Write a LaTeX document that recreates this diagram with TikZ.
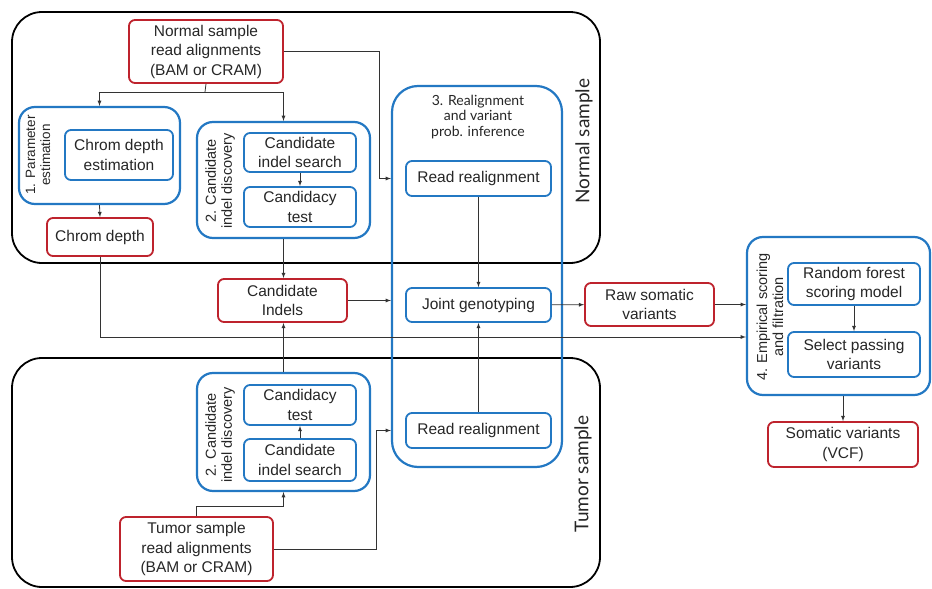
\documentclass[tikz,border=0pt]{standalone}
\usepackage{fontspec}
\setmainfont{Liberation Sans}
\newfontfamily\gillfont{Lato}
\usetikzlibrary{shapes}
\usetikzlibrary{arrows}
\definecolor{boxred}{RGB}{190,35,45}
\definecolor{boxblue}{RGB}{35,120,195}
\begin{document}
\begin{tikzpicture}[x=1pt,y=-1pt]
			\tikzstyle{every node}=[font=\fontsize{15.5}{19.5}\selectfont, text=black!85, inner sep=0pt]
			\tikzstyle{redbox}=[draw=boxred, line width=1.8pt, rounded corners=6pt, align=center]
			\tikzstyle{bluebox}=[draw=boxblue, line width=1.8pt, rounded corners=6pt, align=center]
			\tikzstyle{stagebox}=[draw=boxblue, line width=2.2pt, rounded corners=16pt]
			\tikzstyle{samplebox}=[draw=black, line width=1.8pt, rounded corners=30pt]
			\tikzstyle{stagelbl}=[rotate=90, align=center, font=\fontsize{14.5}{16}\selectfont]
			\tikzstyle{samplelbl}=[rotate=90, font=\gillfont\fontsize{19}{22}\selectfont]
			\tikzstyle{flow}=[->, >=latex, line width=0.8pt, draw=black!80]
			\useasboundingbox (0,0) rectangle (932,589);

			% sample regions
			\node[samplebox, minimum width=588pt, minimum height=251pt] (normal) at (306,137.5) {};
			\node[samplebox, minimum width=588pt, minimum height=229pt] (tumor) at (306,472.5) {};
			\node[samplelbl] (normallbl) at (584,141) {Normal sample};
			\node[samplelbl] (tumorlbl) at (583,474) {Tumor sample};

			% 3. realignment
			\node[stagebox, rounded corners=26pt, minimum width=170pt, minimum height=381pt] (realign) at (477,276.5) {};
			\node[align=center, font=\gillfont\fontsize{14}{15.5}\selectfont] (realigntitle) at (478,117) {3. Realignment\\and variant\\prob. inference};
			\node[bluebox, minimum width=145pt, minimum height=35pt] (nrealign) at (478.5,178.5) {Read realignment};
			\node[bluebox, minimum width=145pt, minimum height=34pt] (joint) at (478.5,305) {Joint genotyping};
			\node[bluebox, minimum width=145pt, minimum height=35pt] (trealign) at (478.5,430.5) {Read realignment};

			% normal sample
			\node[redbox, minimum width=154pt, minimum height=63pt] (nread) at (206,51.5) {Normal sample\\read alignments\\(BAM or CRAM)};
			\node[stagebox, minimum width=161pt, minimum height=97pt] (param) at (99.5,155.5) {};
			\node[stagelbl, font=\fontsize{13.5}{15}\selectfont] (paramlbl) at (38,155) {1. Parameter\\estimation};
			\node[bluebox, minimum width=108pt, minimum height=50pt] (cdest) at (119,155) {Chrom depth\\estimation};
			\node[redbox, minimum width=106pt, minimum height=38pt] (chromdepth) at (100,237) {Chrom depth};
			\node[stagebox, minimum width=173pt, minimum height=116pt] (ndisc) at (283.5,180) {};
			\node[stagelbl] (ndisclbl) at (220,181) {2. Candidate\\indel discovery};
			\node[bluebox, minimum width=112pt, minimum height=39pt] (nsearch) at (300,152.5) {Candidate\\indel search};
			\node[bluebox, minimum width=112pt, minimum height=40pt] (ntest) at (300,207) {Candidacy\\test};

			% candidate indels
			\node[redbox, minimum width=129pt, minimum height=43pt] (indels) at (282.5,300.5) {Candidate\\Indels};

			% tumor sample
			\node[stagebox, minimum width=173pt, minimum height=118pt] (tdisc) at (283.5,432) {};
			\node[stagelbl] (tdisclbl) at (220,435) {2. Candidate\\indel discovery};
			\node[bluebox, minimum width=112pt, minimum height=40pt] (ttest) at (300,405) {Candidacy\\test};
			\node[bluebox, minimum width=112pt, minimum height=42pt] (tsearch) at (300,460) {Candidate\\indel search};
			\node[redbox, minimum width=153pt, minimum height=64pt] (tread) at (196.5,549) {Tumor sample\\read alignments\\(BAM or CRAM)};

			% 4. scoring
			\node[redbox, minimum width=129pt, minimum height=43pt] (raw) at (649.5,304.5) {Raw somatic\\variants};
			\node[stagebox, minimum width=183pt, minimum height=158pt] (empir) at (838.5,316) {};
			\node[stagelbl] (empirlbl) at (770,317) {4. Empirical scoring\\and filtration};
			\node[bluebox, minimum width=132pt, minimum height=42pt] (forest) at (854,284) {Random forest\\scoring model};
			\node[bluebox, minimum width=132pt, minimum height=45pt] (select) at (854,354.5) {Select passing\\variants};
			\node[redbox, minimum width=150pt, minimum height=45pt] (somatic) at (843,444.5) {Somatic variants\\(VCF)};

			% connectors
			\coordinate (nsplit) at (205,92);
			\draw[line width=0.8pt, draw=black!80] (nread.south) -- (nsplit);
			\draw[flow] (nsplit) -| (param.north);
			\draw[flow] (nsplit) -| (ndisc.north);
			\draw[flow] (nread.east) -| ([xshift=-12pt]realign.west |- nrealign) -- (realign.west |- nrealign);
			\draw[flow] (param.south) -- (chromdepth.north);
			\draw[flow] (nsearch) -- (ntest);
			\draw[flow] (ndisc.south) -- (ndisc.south |- indels.north);
			\draw[flow] (indels.east) -- (indels.east -| realign.west);
			\draw[flow] (chromdepth.south) |- ([yshift=-21pt]empir.west);
			\draw[flow] (nrealign) -- (joint);
			\draw[flow] (trealign) -- (joint);
			\draw[flow] (joint) -- (raw);
			\draw[flow] (raw.east) -- (raw.east -| empir.west);
			\draw[flow] (forest) -- (select);
			\draw[flow] (somatic.north |- empir.south) -- (somatic.north);
			\draw[flow] (tsearch) -- (ttest);
			\draw[flow] (tdisc.north) -- (tdisc.north |- indels.south);
			\draw[flow] (tread.north) |- ([yshift=-14pt]tdisc.south) -- (tdisc.south);
			\draw[flow] (tread.east) -| ([xshift=-15pt]realign.west |- trealign) -- (realign.west |- trealign);
\end{tikzpicture}
\end{document}
